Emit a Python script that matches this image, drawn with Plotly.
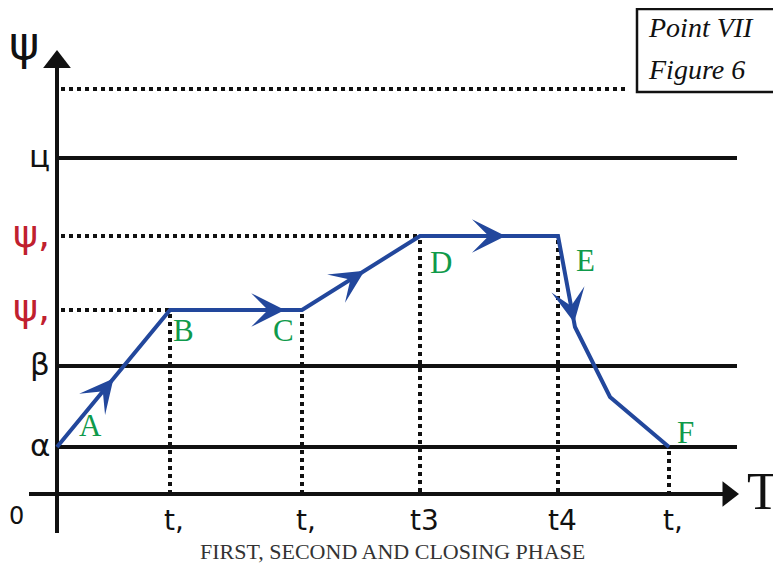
import math
import plotly.graph_objects as go

# levels on the psi axis (units: 1 = 10 px)
lvl_names = ["α", "β", "ψ,", "ψ,", "ц"]
lvl_vals = [4.7, 12.8, 18.4, 25.8, 33.6]
lvl_colors = ["#111", "#111", "#c0202e", "#c0202e", "#111"]
top_dotted = 40.5

# time marks
t_labels = ["t,", "t,", "t3", "t4", "t,"]
t_vals = [11.3, 24.5, 36.3, 50.1, 61.2]
t_tops = [18.4, 18.4, 25.8, 25.8, 4.7]

# psi(T) path
path_x = [0, 11.3, 24.5, 36.3, 50.1, 51.8, 55.3, 61.2]
path_y = [4.7, 18.4, 18.4, 25.8, 25.8, 16.7, 9.7, 4.7]

# arrows on the path: (segment index, fraction along it)
arrow_pos = [(0, 0.50), (1, 0.87), (2, 0.53), (3, 0.62), (4, 0.95)]

# point letters: (text, path index, shift right px, shift up px)
pt_labels = [("A", 0, 33, 22), ("B", 1, 13, -20), ("C", 2, -19, -20),
             ("D", 3, 21, -26), ("E", 4, 27, -24), ("F", 7, 16, 15)]

x_end = 68.1
y_end = 44.2

BLUE = "#22479c"
GREEN = "#0f9a4b"
INK = "#111"

# page has an 8px body margin, so the figure sits at (8, 8)
W, H = 773, 555
def px(x):
    return (x - 8) / W
def py(y):
    return 1 - (y - 8) / H

fig = go.Figure()

# solid levels
for v in [lvl_vals[0], lvl_vals[1], lvl_vals[4]]:
    fig.add_trace(go.Scatter(x=[0, x_end - 0.1], y=[v, v], mode="lines",
                             line=dict(color=INK, width=4), hoverinfo="skip"))
# dotted levels
for v, xe in [(lvl_vals[2], t_vals[0]), (lvl_vals[3], t_vals[2]), (top_dotted, 56.8)]:
    fig.add_trace(go.Scatter(x=[0.4, xe], y=[v, v], mode="lines",
                             line=dict(color=INK, width=4, dash="4px,4px"), hoverinfo="skip"))
# dotted verticals
for tv, top in zip(t_vals, t_tops):
    fig.add_trace(go.Scatter(x=[tv, tv], y=[top - 0.4, 0.2], mode="lines",
                             line=dict(color=INK, width=4, dash="4px,4px"), hoverinfo="skip"))

# axes
fig.add_trace(go.Scatter(x=[-2.8, x_end - 1.5], y=[0, 0], mode="lines",
                         line=dict(color=INK, width=4), hoverinfo="skip"))
fig.add_trace(go.Scatter(x=[0, 0], y=[-3.9, y_end - 1.5], mode="lines",
                         line=dict(color=INK, width=4), hoverinfo="skip"))
fig.add_trace(go.Scatter(x=[x_end - 1.0], y=[0], mode="markers",
                         marker=dict(symbol="triangle-right", size=22, color=INK), hoverinfo="skip"))
fig.add_trace(go.Scatter(x=[0], y=[y_end - 1.0], mode="markers",
                         marker=dict(symbol="triangle-up", size=24, color=INK), hoverinfo="skip"))

# the path
fig.add_trace(go.Scatter(x=path_x, y=path_y, mode="lines",
                         line=dict(color=BLUE, width=4), hoverinfo="skip"))

ann = []
for seg, f in arrow_pos:
    x0, y0 = path_x[seg], path_y[seg]
    x1, y1 = path_x[seg + 1], path_y[seg + 1]
    tx, ty = x0 + f * (x1 - x0), y0 + f * (y1 - y0)
    L = math.hypot(x1 - x0, y1 - y0)
    ann.append(dict(x=tx, y=ty, ax=tx - 2.0 * (x1 - x0) / L, ay=ty - 2.0 * (y1 - y0) / L,
                    xref="x", yref="y", axref="x", ayref="y", text="", showarrow=True,
                    arrowhead=3, arrowsize=2.8, arrowwidth=2, arrowcolor=BLUE, standoff=0))

for txt, i, dx, dy in pt_labels:
    ann.append(dict(x=path_x[i], y=path_y[i], text=txt, showarrow=False, xshift=dx, yshift=dy,
                    font=dict(family="Liberation Serif", size=31, color=GREEN)))

# level labels
for name, v, c in zip(lvl_names, lvl_vals, lvl_colors):
    ann.append(dict(x=-0.5, y=v, text=name, showarrow=False, xanchor="right", yshift=2,
                    font=dict(family="DejaVu Sans", size=31 if name != "ψ," else 38, color=c)))
ann.append(dict(x=-3.3, y=45.1, text="ψ", showarrow=False,
                font=dict(family="DejaVu Sans", size=46, color=INK)))

# time labels
ann.append(dict(x=-4.1, y=-2.2, text="0", showarrow=False,
                font=dict(family="DejaVu Sans", size=24, color=INK)))
for lab, tv in zip(t_labels, t_vals):
    ann.append(dict(x=tv + 0.4, y=-2.6, text=lab, showarrow=False,
                    font=dict(family="DejaVu Sans", size=28, color=INK)))
ann.append(dict(x=x_end + 2.5, y=0.3, text="T", showarrow=False,
                font=dict(family="Liberation Serif", size=52, color=INK)))

# caption
ann.append(dict(x=px(392), y=py(551), xref="paper", yref="paper", xanchor="center", yanchor="middle",
                text="FIRST, SECOND AND CLOSING PHASE",
                showarrow=False, font=dict(family="Liberation Serif", size=22, color="#333")))

# figure tag box
for txt, yy in [("Point VII", 28), ("Figure 6", 70)]:
    ann.append(dict(x=px(646), y=py(yy), xref="paper", yref="paper", text="<i>" + txt + "</i>",
                    xanchor="left", yanchor="middle", showarrow=False,
                    font=dict(family="Liberation Serif", size=28, color=INK)))

fig.update_layout(
    width=W, height=H, margin=dict(l=0, r=0, t=0, b=0),
    paper_bgcolor="white", plot_bgcolor="white", showlegend=False,
    xaxis=dict(range=[-4.9, 72.4], visible=False, fixedrange=True),
    yaxis=dict(range=[-6.9, 48.6], visible=False, fixedrange=True),
    annotations=ann,
    shapes=[dict(type="rect", xref="paper", yref="paper", x0=px(637), x1=px(778),
                 y0=py(92), y1=py(9), line=dict(color=INK, width=2.5))],
)

fig.write_html("out.html")
